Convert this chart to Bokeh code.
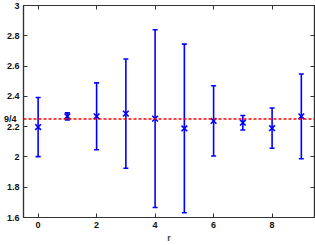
from bokeh.plotting import figure
from bokeh.models import (ColumnDataSource, FixedTicker, LinearAxis, Range1d,
                          Whisker, Span, AllLabels)
from bokeh.embed import file_html
from bokeh.resources import INLINE

r = [0, 1, 2, 3, 4, 5, 6, 7, 8, 9]
val = [2.197, 2.268, 2.268, 2.286, 2.253, 2.188, 2.238, 2.226, 2.190, 2.268]
err = [0.195, 0.023, 0.221, 0.361, 0.587, 0.557, 0.232, 0.048, 0.133, 0.280]
ref_value = 2.25
ref_label = "9/4"
y_ticks = [1.6, 1.8, 2.0, 2.2, 2.4, 2.6, 2.8, 3.0]
y_tick_labels = ["1.6", "1.8", "2", "2.2", "2.4", "2.6", "2.8", "3"]
x_ticks = [0, 2, 4, 6, 8]

src = ColumnDataSource(dict(
    r=r, val=val,
    lo=[v - e for v, e in zip(val, err)],
    hi=[v + e for v, e in zip(val, err)],
))

x0, x1 = -0.5, 9.45
p = figure(width=315, height=245, output_backend="svg", toolbar_location=None,
           x_range=Range1d(x0, x1), y_range=Range1d(1.6, 3.0),
           min_border_left=23, min_border_right=1, min_border_top=5,
           min_border_bottom=28, background_fill_color="white",
           border_fill_color="white")
p.grid.visible = False
p.outline_line_color = "#333333"
p.outline_line_width = 1.2

FONT = "Liberation Sans"

def style_axis(ax, labels=True):
    ax.major_tick_in = 4
    ax.major_tick_out = 0
    ax.minor_tick_in = 0
    ax.minor_tick_out = 0
    ax.axis_line_color = "#333333"
    ax.axis_line_width = 1.2
    ax.major_tick_line_color = "#333333"
    ax.major_label_text_font = FONT
    ax.major_label_text_font_style = "bold"
    ax.major_label_text_font_size = "9px"
    ax.major_label_text_color = "#111111"
    ax.major_label_policy = AllLabels()
    if not labels:
        ax.major_label_text_font_size = "0px"
        ax.major_label_text_alpha = 0
        ax.major_label_standoff = 0

p.xaxis.ticker = FixedTicker(ticks=x_ticks)
p.yaxis.ticker = FixedTicker(ticks=y_ticks)
p.yaxis.major_label_overrides = {t: l for t, l in zip(y_ticks, y_tick_labels)}
style_axis(p.xaxis[0])
style_axis(p.yaxis[0])
p.xaxis.major_label_standoff = 4
p.yaxis.major_label_standoff = 4
p.xaxis.axis_label = "r"
p.xaxis.axis_label_text_font = FONT
p.xaxis.axis_label_text_font_style = "bold"
p.xaxis.axis_label_text_font_size = "9px"
p.xaxis.axis_label_standoff = 2

top = LinearAxis(ticker=FixedTicker(ticks=x_ticks))
style_axis(top, labels=False)
p.add_layout(top, "above")
right = LinearAxis(ticker=FixedTicker(ticks=[1.8, 2.0, 2.2, 2.4, 2.6, 2.8]))
style_axis(right, labels=False)
p.add_layout(right, "right")

# outer left axis carrying only the 9/4 label, pulled back over the main labels
ref_axis = LinearAxis(ticker=FixedTicker(ticks=[ref_value]),
                      major_label_overrides={ref_value: ref_label})
style_axis(ref_axis)
ref_axis.axis_line_color = None
ref_axis.major_tick_line_color = None
ref_axis.major_tick_in = 0
ref_axis.major_label_standoff = -13
p.add_layout(ref_axis, "left")

p.add_layout(Span(location=ref_value, dimension="width", line_color="red",
                  line_width=1.5, line_dash="3 2"))

w = Whisker(source=src, base="r", upper="hi", lower="lo",
            line_color="blue", line_width=1.6)
w.upper_head.size = 5
w.lower_head.size = 5
w.upper_head.line_color = "blue"
w.lower_head.line_color = "blue"
w.upper_head.line_width = 1.6
w.lower_head.line_width = 1.6
p.add_layout(w)

p.scatter("r", "val", source=src, marker="x", size=8, line_color="blue",
          line_width=1.6)

open("out.html", "w").write(file_html(p, INLINE))
